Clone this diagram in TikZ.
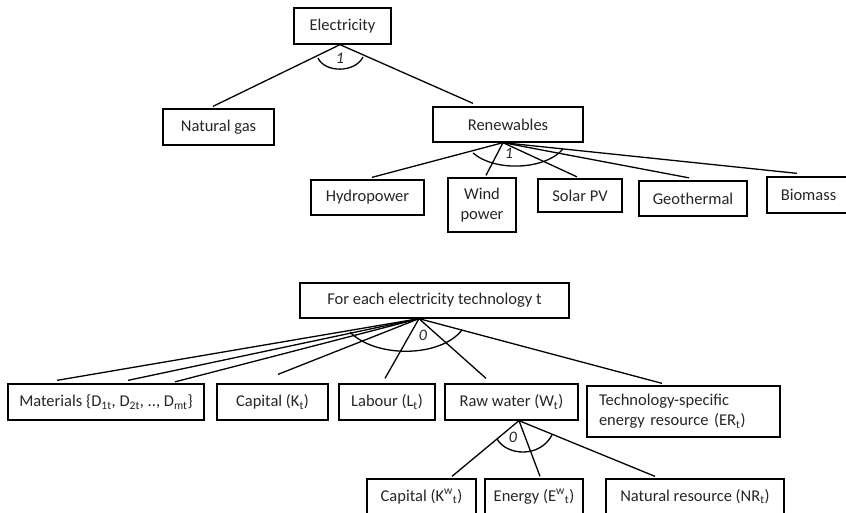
\documentclass[tikz,border=0pt]{standalone}
\usepackage{fontspec}
\setmainfont{Carlito}
\usetikzlibrary{calc}
\tikzset{
  box/.style={draw=black, line width=1.3pt, inner sep=0pt, align=center, text=black!85,
    font=\fontsize{16.5}{20}\selectfont},
  conn/.style={draw=black, line width=1.3pt},
  arcline/.style={draw=black, line width=1.3pt},
  ilabel/.style={inner sep=0pt, font=\fontsize{16}{18}\selectfont\itshape, text=black!85}
}
\begin{document}
\begin{tikzpicture}[x=1pt,y=-1pt]
\clip (0,0) rectangle (846,512);
\fill[white] (0,0) rectangle (846,512);
% top tree
\node[box, minimum width=97pt, minimum height=36pt] (elec) at (342.5,26) {Electricity};
\node[box, minimum width=111pt, minimum height=36pt] (gas) at (218.5,127) {Natural gas};
\node[box, minimum width=150pt, minimum height=35pt] (ren) at (508,124.5) {Renewables};
\node[box, minimum width=113pt, minimum height=35pt] (hydro) at (367.5,197.5) {Hydropower};
\node[box, minimum width=68pt, minimum height=54pt] (wind) at (482,205) {Wind\\power};
\node[box, minimum width=84pt, minimum height=33pt] (solar) at (580,195.5) {Solar PV};
\node[box, minimum width=108pt, minimum height=35pt] (geo) at (693,198.5) {Geothermal};
\node[box, minimum width=83pt, minimum height=36pt] (bio) at (808.5,195) {Biomass};

\coordinate (elecA) at ($(elec.south)+(-2.5,0)$);
\draw[conn] (elecA) -- ($(gas.north)+(-5.5,-2)$);
\draw[conn] (elecA) -- ($(ren.north)+(-35,-3)$);

\coordinate (renA) at ($(ren.south)+(-5,0)$);
\draw[conn] (renA) -- ($(hydro.north)+(4.5,-2)$);
\draw[conn] (renA) -- ($(wind.north)+(4,-2)$);
\draw[conn] (renA) -- ($(solar.north)+(-3,-1.5)$);
\draw[conn] (renA) -- ($(geo.north)+(-4,-2.5)$);
\draw[conn] (renA) -- ($(bio.north)+(-11.5,-3)$);

\draw[arcline] (318,58) .. controls (325,73) and (355,73) .. (363,57);
\node[ilabel] (one1) at (340,58) {1};
\draw[arcline] (473,153) .. controls (495,172) and (545,170) .. (563,149);
\node[ilabel] (one2) at (509,153) {1};

% bottom tree
\node[box, minimum width=269pt, minimum height=35pt] (tech) at (434.5,300.5) {For each electricity technology t};
\node[box, minimum width=196pt, minimum height=36pt] (mat) at (106,402) {Materials \{D\textsubscript{1t}, D\textsubscript{2t}, .., D\textsubscript{mt}\}};
\node[box, minimum width=111pt, minimum height=36pt] (cap) at (272.5,402) {Capital (K\textsubscript{t})};
\node[box, minimum width=96pt, minimum height=36pt] (lab) at (387,402) {Labour (L\textsubscript{t})};
\node[box, minimum width=133pt, minimum height=36pt] (water) at (511.5,402) {Raw water (W\textsubscript{t})};
\node[box, text width=169pt, inner xsep=12pt, minimum height=51pt, align=left] (er) at (683.5,411.5) {Technology-specific\\energy resource (ER\textsubscript{t})};

\coordinate (techA) at ($(tech.south)+(-15.5,0)$);
\draw[conn] (techA) -- ($(mat.north)+(-49,-3)$);
\draw[conn] (techA) -- ($(mat.north)+(22,-3)$);
\draw[conn] (techA) -- ($(mat.north)+(69,-1.5)$);
\draw[conn] (techA) -- ($(cap.north)+(5.5,-9)$);
\draw[conn] (techA) -- ($(lab.north)+(-2,-5)$);
\draw[conn] (techA) -- ($(water.north)+(-25.5,-5)$);
\draw[conn] (techA) -- ($(er.north)+(-21.5,-2)$);

\draw[arcline] (350,332) .. controls (375,358) and (440,358) .. (462,330);
\node[ilabel] (zero1) at (423,335) {0};

\node[box, minimum width=109pt, minimum height=35pt] (capw) at (421.5,496.5) {Capital (K\textsuperscript{w}\textsubscript{t})};
\node[box, minimum width=98pt, minimum height=35pt] (enw) at (534,496.5) {Energy (E\textsuperscript{w}\textsubscript{t})};
\node[box, minimum width=178pt, minimum height=35pt] (nr) at (695,496.5) {Natural resource (NR\textsubscript{t})};

\coordinate (waterA) at ($(water.south)+(7.5,0)$);
\draw[conn] (waterA) -- ($(capw.north)+(30.5,-2)$);
\draw[conn] (waterA) -- ($(enw.north)+(6,-2)$);
\draw[conn] (waterA) -- ($(nr.north)+(-40,-2)$);

\draw[arcline] (497,439) .. controls (507,456) and (540,458) .. (552,435);
\node[ilabel] (zero2) at (513,437) {0};
\end{tikzpicture}
\end{document}
